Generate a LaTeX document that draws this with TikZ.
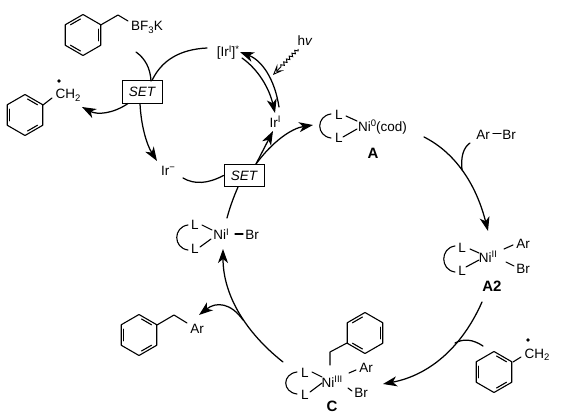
\documentclass[tikz,border=0pt]{standalone}
\usepackage{fontspec}
\setmainfont{Liberation Sans}
\usetikzlibrary{arrows.meta,decorations.pathmorphing,calc}
\tikzset{
  bond/.style={line width=1.1pt,line cap=round,line join=round},
  curv/.style={line width=1.25pt,line cap=round},
  arr/.style={curv,-{Stealth[length=14pt,width=10pt,inset=4pt]}},
  txt/.style={inner sep=0pt,anchor=base,font=\fontsize{13.5}{15}\selectfont},
  lab/.style={inner sep=0pt,anchor=base,font=\fontsize{15}{17}\selectfont\bfseries},
  setbox/.style={draw,line width=1pt,inner sep=0pt,minimum width=40pt,minimum height=22pt,font=\fontsize{13.5}{15}\selectfont\itshape},
  rad/.style={fill,circle,inner sep=0pt,minimum size=3.6pt}
}
\newcommand{\benz}[4]{%
  \begin{scope}[shift={(#1,#2)}]
    \draw[bond] (30:#3)--(90:#3)--(150:#3)--(210:#3)--(270:#3)--(330:#3)--cycle;
    \foreach \a in {#4,#4+120,#4+240}
      \draw[bond] ({\a+9}:{#3*.79})--({\a+51}:{#3*.79});
  \end{scope}}
\newcommand{\lig}[3]{%
  \draw[bond] (#1,#2) .. controls ({#1-15},{#2+2}) and ({#1-15},{#3-2}) .. (#1,#3);}
\newcommand{\up}[1]{\raisebox{4.5pt}{\fontsize{9.5}{10}\selectfont #1}}
\newcommand{\dn}[1]{\raisebox{-2.5pt}{\fontsize{9.5}{10}\selectfont #1}}
\newcommand{\qc}[4]{\draw[#1] #2 coordinate (qs) .. controls ($(qs)!.667!#3$) and ($#4!.667!#3$) .. #4;}
\begin{document}
\begin{tikzpicture}[x=1pt,y=-1pt]
\useasboundingbox (0,0) rectangle (565,420);
% --- nodes
\node[setbox] (set1) at (142,92) {SET};
\node[setbox] (set2) at (244,175.5) {SET};
\node[txt] (irstar) at (228,57) {[Ir\up{I}]\up{*}};
\node[txt] (ir1) at (275,127) {Ir\up{I}};
\node[txt] (irm) at (168,175) {Ir\up{−}};
\node[txt] (hv) at (305,46) {h\textit{v}};
\node[txt] (bf3k) at (147,31) {BF\dn{3}K};
\node[txt] (ch2a) at (68,99) {CH\dn{2}};
\node[rad] (dota) at (59,81) {};
\node[txt,anchor=base west] (nia) at (358,131) {Ni\up{0}(cod)};
\node[txt] (la1) at (339,119) {L};
\node[txt] (la2) at (339,142) {L};
\node[lab] (A) at (373,158) {A};
\node[txt] (ar1) at (483,139) {Ar};
\node[txt] (br1) at (509,139) {Br};
\node[txt] (nib) at (488,262) {Ni\up{II}};
\node[txt] (lb1) at (462,252) {L};
\node[txt] (lb2) at (462,275) {L};
\node[txt] (arb) at (523,248) {Ar};
\node[txt] (brb) at (523,273) {Br};
\node[lab] (A2) at (492,291) {A2};
\node[txt] (ch2b) at (537,358) {CH\dn{2}};
\node[rad] (dotb) at (528,340) {};
\node[txt] (nic) at (332,387) {Ni\up{III}};
\node[txt] (lc1) at (305,377) {L};
\node[txt] (lc2) at (305,399) {L};
\node[txt] (arc) at (366,372) {Ar};
\node[txt] (brc) at (361,397) {Br};
\node[lab] (C) at (332,411) {C};
\node[txt] (nid) at (221,239.5) {Ni\up{I}};
\node[txt] (ld1) at (195,229) {L};
\node[txt] (ld2) at (195,253) {L};
\node[txt] (brd) at (252,239.5) {Br};
\node[txt] (arp) at (197,333) {Ar};
% --- free ends
\coordinate (e1) at (136,52);
\coordinate (e2) at (151,81);
\coordinate (star) at (240,52);
\coordinate (star2) at (242,58);
\coordinate (starin) at (207,48);
\coordinate (ir1a) at (279,107);
\coordinate (ir1b) at (275,113);
\coordinate (ir1c) at (273,131);
\coordinate (aend) at (313,125);
\coordinate (a2s) at (424,137);
\coordinate (a2e) at (488,231);
\coordinate (j0) at (470,143);
\coordinate (j1) at (462,170);
\coordinate (a2o) at (482,302);
\coordinate (ce) at (383,384);
\coordinate (j2b) at (483,346);
\coordinate (j2) at (455,343);
\coordinate (cs) at (283,362);
\coordinate (de) at (223,249);
\coordinate (j3) at (243,320);
\coordinate (pe) at (199,315);
\coordinate (rad1) at (82,107);
\coordinate (irm1) at (157,161);
\coordinate (irm2) at (183,178);
\coordinate (dn) at (227,218);
\coordinate (hvs) at (298,49);
\coordinate (hve) at (273,75);
% --- benzenes
\benz{83}{35}{20.5}{-30}
\draw[bond] (100.7,25)--(118,15)--(128,21);
\benz{25}{115}{20.5}{30}
\draw[bond] (43,105)--(52,98);
\benz{139}{335}{20.5}{30}
\draw[bond] (157,325)--(174,315)--(187,323);
\benz{494}{372}{20.5}{30}
\draw[bond] (513,362)--(521,357);
\benz{365}{333}{20.5}{-30}
\draw[bond] (330,365)--(330,352)--(347,343);
% --- ligands
\lig{331}{114}{138}
\draw[bond] (346,116)--(357,121) (343,137)--(357,129);
\lig{455}{246}{272}
\draw[bond] (470,249)--(479,253) (466,267)--(479,260);
\draw[bond] (504,249)--(513,245) (506,262)--(514,266);
\lig{297}{372}{394}
\draw[bond] (312,372)--(322,377) (310,392)--(322,383);
\draw[bond] (349,373)--(356,370) (348,388)--(352,391);
\lig{188}{225}{250}
\draw[bond] (202,225)--(212,230) (200,247)--(211,239);
\draw[bond] (235,234)--(243,234);
\draw[bond] (493,133.5)--(501,133.5);
% --- upper cycle
\qc{curv}{(e1)}{(150,62)}{(e2)}
\qc{curv}{([xshift=10pt]set1.north)}{(166.5,50)}{(starin)}
\qc{arr}{([xshift=-14pt]set1.south)}{(105,119)}{(rad1)}
\qc{arr}{([xshift=-2pt]set1.south)}{(141.5,136.5)}{(irm1)}
\qc{curv}{(irm2)}{(200,188)}{(set2.west)}
\qc{arr}{(ir1a)}{(272.5,64.5)}{(star)}
\qc{arr}{(star2)}{(266,75)}{(ir1b)}
\draw[arr] ([xshift=12pt]set2.north) -- (ir1c);
\qc{arr}{([xshift=12pt]set2.north)}{(281,130)}{(aend)}
\qc{curv}{([xshift=-6pt]set2.south)}{(231,203)}{(dn)}
\draw[line width=.9pt,-{Stealth[length=11pt,width=9pt,inset=5pt,open]},decorate,
  decoration={snake,amplitude=1.5pt,segment length=4pt,post length=10pt}] (hvs) -- (hve);
% --- main cycle
\qc{arr}{(a2s)}{(470,160)}{(a2e)}
\qc{curv}{(j0)}{(460,150)}{(j1)}
\qc{arr}{(a2o)}{(451.5,371)}{(ce)}
\qc{curv}{(j2b)}{(468,336)}{(j2)}
\qc{arr}{(cs)}{(223,314.5)}{(de)}
\qc{arr}{(j3)}{(225,294.5)}{(pe)}
\end{tikzpicture}
\end{document}
